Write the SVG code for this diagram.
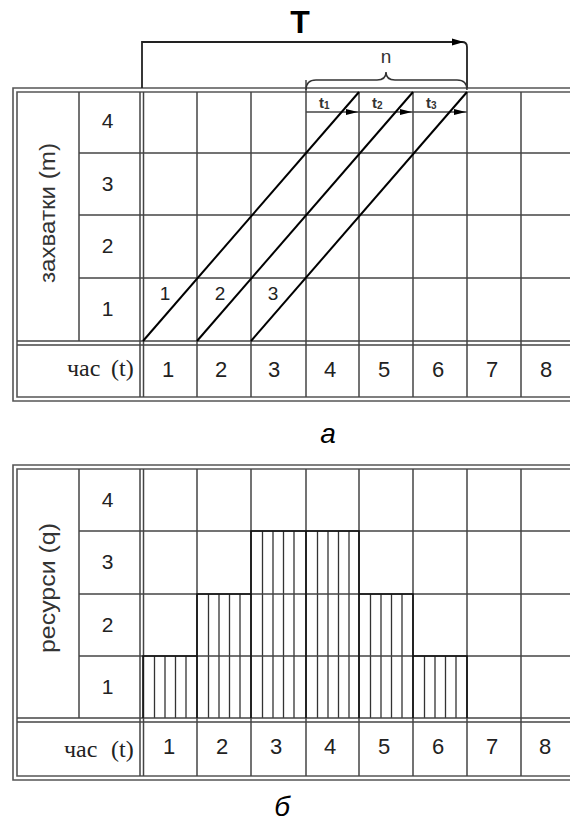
<svg xmlns="http://www.w3.org/2000/svg" width="570" height="825" viewBox="0 0 570 825">
<style>
.bg{fill:#fff}
.fr{fill:none;stroke:#555;stroke-width:1.6}
.gr{fill:none;stroke:#444;stroke-width:1.5}
.dk{fill:none;stroke:#111;stroke-width:1.6}
.dg{fill:none;stroke:#000;stroke-width:2}
.ht{fill:none;stroke:#333;stroke-width:1.3}
.num{font-family:"Liberation Sans",Arial,sans-serif;font-size:21px;fill:#222;text-anchor:middle}
.tm{font-family:"Liberation Serif","Times New Roman",serif;font-size:24px;fill:#222}
.rot{font-family:"Liberation Sans",Arial,sans-serif;font-size:22px;fill:#333;text-anchor:middle}
.sm{font-family:"Liberation Sans",Arial,sans-serif;font-size:19px;fill:#222;text-anchor:middle}
.tl{font-family:"Liberation Sans",Arial,sans-serif;font-size:15px;font-weight:bold;fill:#333}
.cap{font-family:"Liberation Sans",Arial,sans-serif;font-size:28px;font-style:italic;fill:#000;text-anchor:middle}
</style>
<rect class="bg" x="0" y="0" width="570" height="825"/>

<!-- Chart a -->
<g id="chart-a">
<path class="fr" d="M575,88 H13 V401 H575"/>
<path class="fr" d="M575,92 H17 V397 H575"/>
<line class="gr" x1="140" y1="92" x2="140" y2="397"/>
<line class="gr" x1="143.5" y1="92" x2="143.5" y2="397"/>
<line class="gr" x1="79" y1="92" x2="79" y2="341"/>
<g class="gr">
<line x1="79" y1="153" x2="575" y2="153"/>
<line x1="79" y1="215" x2="575" y2="215"/>
<line x1="79" y1="278" x2="575" y2="278"/>
<line x1="17" y1="341" x2="575" y2="341"/>
<line x1="17" y1="345" x2="575" y2="345"/>
<line x1="197" y1="92" x2="197" y2="397"/>
<line x1="251" y1="92" x2="251" y2="397"/>
<line x1="306" y1="80" x2="306" y2="397"/>
<line x1="359" y1="92" x2="359" y2="397"/>
<line x1="413" y1="92" x2="413" y2="397"/>
<line x1="467" y1="92" x2="467" y2="397"/>
<line x1="521" y1="92" x2="521" y2="397"/>
<line x1="306" y1="112" x2="467" y2="112"/>
</g>
<text class="rot" transform="translate(55,213) rotate(-90)" textLength="140" lengthAdjust="spacingAndGlyphs">захватки (m)</text>
<text class="num" x="107.5" y="128">4</text>
<text class="num" x="107.5" y="191">3</text>
<text class="num" x="107.5" y="253">2</text>
<text class="num" x="107.5" y="316">1</text>
<text class="tm" x="67" y="376">час</text>
<text class="tm" x="111" y="376">(t)</text>
<g class="num" style="font-size:22px">
<text x="168" y="377">1</text><text x="221" y="377">2</text><text x="274" y="377">3</text><text x="330" y="377">4</text>
<text x="384" y="377">5</text><text x="438" y="377">6</text><text x="492" y="377">7</text><text x="546" y="377">8</text>
</g>
<text class="sm" x="165" y="300">1</text>
<text class="sm" x="220" y="300">2</text>
<text class="sm" x="273" y="300">3</text>
<text class="tl" x="319" y="108">t<tspan font-size="10" dy="1">1</tspan></text>
<text class="tl" x="372" y="108">t<tspan font-size="10" dy="1">2</tspan></text>
<text class="tl" x="426" y="108">t<tspan font-size="10" dy="1">3</tspan></text>
</g>

<g id="connectors">
<line class="dg" x1="143" y1="341" x2="359" y2="92"/>
<line class="dg" x1="197" y1="341" x2="413" y2="92"/>
<line class="dg" x1="251" y1="341" x2="467" y2="92"/>
<polygon points="346,109 358,112 346,115" fill="#000"/>
<polygon points="400,109 412,112 400,115" fill="#000"/>
<polygon points="454,109 466,112 454,115" fill="#000"/>
<path class="gr" style="stroke:#222;stroke-width:1.8" d="M142,88 V42 H462 Q467,42 467,47 V88"/>
<polygon points="452,38.5 464,42 452,45.5" fill="#000"/>
<path fill="none" stroke="#333" stroke-width="1.5" d="M306,90 Q306,80 316,80 H377 Q386,80 386,72 Q386,80 395,80 H457 Q467,80 467,90"/>
</g>
<text id="label-T" x="300" y="33" font-family="Liberation Sans,Arial,sans-serif" font-size="32" font-weight="bold" text-anchor="middle" fill="#000">T</text>
<text id="label-n" x="386" y="63" font-family="Liberation Sans,Arial,sans-serif" font-size="19" text-anchor="middle" fill="#333">n</text>
<text id="cap-a" class="cap" x="328" y="443">а</text>

<!-- Chart b -->
<g id="chart-b">
<path class="ht" d="M154.5,656V718M165,656V718M175.5,656V718M186,656V718
M208.5,594V718M219,594V718M229.5,594V718M240,594V718
M262.5,531V718M273,531V718M283.5,531V718M294,531V718
M317.5,531V718M328,531V718M338.5,531V718M349,531V718
M370.5,594V718M381,594V718M391.5,594V718M402,594V718
M424.5,656V718M435,656V718M445.5,656V718M456,656V718"/>
<path class="fr" d="M575,465 H13 V780 H575"/>
<path class="fr" d="M575,469 H17 V776 H575"/>
<line class="gr" x1="140" y1="469" x2="140" y2="776"/>
<line class="gr" x1="143.5" y1="469" x2="143.5" y2="776"/>
<line class="gr" x1="79" y1="469" x2="79" y2="718"/>
<g class="gr">
<line x1="79" y1="531" x2="575" y2="531"/>
<line x1="79" y1="594" x2="575" y2="594"/>
<line x1="79" y1="656" x2="575" y2="656"/>
<line x1="17" y1="718" x2="575" y2="718"/>
<line x1="17" y1="722" x2="575" y2="722"/>
<line x1="197" y1="469" x2="197" y2="776"/>
<line x1="251" y1="469" x2="251" y2="776"/>
<line x1="306" y1="469" x2="306" y2="776"/>
<line x1="359" y1="469" x2="359" y2="776"/>
<line x1="413" y1="469" x2="413" y2="776"/>
<line x1="467" y1="469" x2="467" y2="776"/>
<line x1="521" y1="469" x2="521" y2="776"/>
</g>
<path class="dk" d="M143,718 V656 H197 V594 H251 V531 H359 V594 H413 V656 H467 V718"/>
<line class="dk" x1="197" y1="656" x2="197" y2="718"/>
<line class="dk" x1="251" y1="594" x2="251" y2="718"/>
<line class="dk" x1="306" y1="531" x2="306" y2="718"/>
<line class="dk" x1="359" y1="594" x2="359" y2="718"/>
<line class="dk" x1="413" y1="656" x2="413" y2="718"/>
<text class="rot" transform="translate(55,588) rotate(-90)" textLength="130" lengthAdjust="spacingAndGlyphs">ресурси (q)</text>
<text class="num" x="107.5" y="507">4</text>
<text class="num" x="107.5" y="569">3</text>
<text class="num" x="107.5" y="632">2</text>
<text class="num" x="107.5" y="694">1</text>
<text class="tm" x="64" y="757">час</text>
<text class="tm" x="111" y="757">(t)</text>
<g class="num" style="font-size:22px">
<text x="169" y="754">1</text><text x="222" y="754">2</text><text x="276" y="754">3</text><text x="330" y="754">4</text>
<text x="384" y="754">5</text><text x="438" y="754">6</text><text x="492" y="754">7</text><text x="545" y="754">8</text>
</g>
</g>
<text id="cap-b" class="cap" x="282" y="816">б</text>
</svg>
